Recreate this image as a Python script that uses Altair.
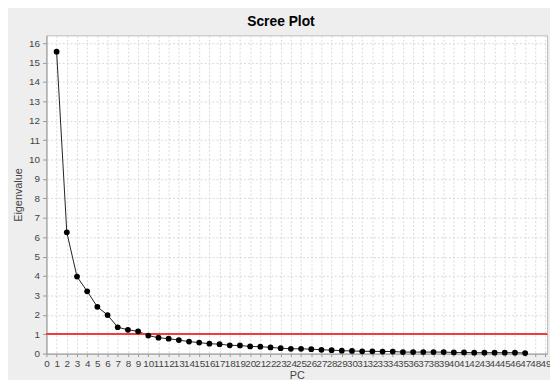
import altair as alt
import pandas as pd

pcs = list(range(1, 48))
eigenvalues = [15.56, 6.25, 3.97, 3.21, 2.41, 1.99, 1.36, 1.23, 1.15, 0.93,
               0.82, 0.77, 0.70, 0.62, 0.57, 0.51, 0.49, 0.43, 0.42, 0.37,
               0.36, 0.32, 0.28, 0.25, 0.25, 0.23, 0.20, 0.18, 0.15, 0.14,
               0.12, 0.12, 0.11, 0.11, 0.08, 0.08, 0.08, 0.08, 0.08, 0.06,
               0.06, 0.05, 0.05, 0.05, 0.05, 0.05, 0.03]
x_ticks = list(range(0, 50))
y_ticks = list(range(0, 17))
threshold = 1

df = pd.DataFrame({"PC": pcs, "Eigenvalue": eigenvalues})

FONT = "Liberation Sans"

x_scale = alt.Scale(domain=[0, 49.15], nice=False, zero=False)
x_axis = alt.Axis(values=x_ticks, labelOverlap=False, format="d",
                  gridDash=[2, 2], gridColor="#d8d8d8",
                  tickSize=3, labelPadding=2, labelFlush=False,
                  titlePadding=1,
                  domainColor="#999999", tickColor="#999999")
y_scale = alt.Scale(domain=[0, 16.4], nice=False)
y_axis = alt.Axis(values=y_ticks, format="d", labelOverlap=False,
                  gridDash=[2, 2], gridColor="#d8d8d8",
                  tickSize=4, labelPadding=3, titlePadding=5,
                  domainColor="#999999", tickColor="#999999")

x = alt.X("PC:Q", title="PC", scale=x_scale, axis=x_axis)
y = alt.Y("Eigenvalue:Q", title="Eigenvalue", scale=y_scale, axis=y_axis)

base = alt.Chart(df)
line = base.mark_line(color="#222222", strokeWidth=1).encode(x=x, y=y)
points = base.mark_circle(color="black", size=34, opacity=1).encode(x=x, y=y)
rule = base.mark_rule(color="#f03c3c", strokeWidth=1.2).encode(
    y=alt.YDatum(threshold, title="Eigenvalue", scale=y_scale, axis=y_axis)
)

chart = alt.layer(line, rule, points).properties(
    width=508,
    height=323,
    title=alt.TitleParams("Scree Plot", font=FONT, fontSize=14, fontWeight="bold",
                          color="black", anchor="middle", dx=-16, offset=6),
    autosize=alt.AutoSizeParams(type="none"),
    padding={"left": 39, "top": 25, "right": 3, "bottom": 24},
    background="#eeeeee",
).configure_view(
    fill="white", stroke="#bbbbbb", strokeWidth=1
).configure_axis(
    labelFont=FONT, labelFontSize=10, labelColor="#444444",
    titleFont=FONT, titleFontSize=11, titleColor="#444444", titleFontWeight="normal",
)

chart.save("out.html", embed_options={"renderer": "svg", "actions": False})
